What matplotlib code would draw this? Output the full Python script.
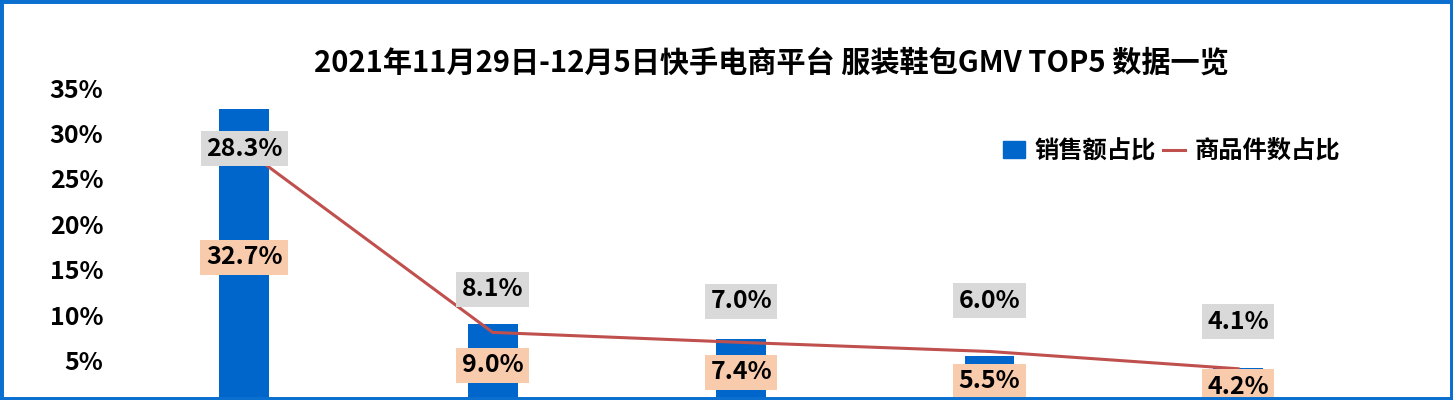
import numpy as np
import matplotlib
matplotlib.use("Agg")
import matplotlib.pyplot as plt
from matplotlib.patches import Rectangle, Patch
from matplotlib.lines import Line2D

plt.rcParams['font.family'] = ['Noto Sans CJK SC', 'DejaVu Sans']
plt.rcParams['font.weight'] = 'bold'

title = "2021年11月29日-12月5日快手电商平台 服装鞋包GMV TOP5 数据一览"
categories = ["第1名", "第2名", "第3名", "第4名", "第5名"]
sales_share = [32.7, 9.0, 7.4, 5.5, 4.2]      # 销售额占比 (%)
item_share = [28.3, 8.1, 7.0, 6.0, 4.1]       # 商品件数占比 (%)
yticks = [0, 5, 10, 15, 20, 25, 30, 35]

bar_color = "#0066cc"
line_color = "#c0504d"

fig = plt.figure(figsize=(14.53, 4.0), dpi=100)
ax = fig.add_axes([0.0826, -0.015, 0.855, 0.795])

x = np.arange(len(categories))
ax.bar(x, sales_share, width=0.2, color=bar_color, zorder=2)
ax.plot(x, item_share, color=line_color, lw=2.2, zorder=3)

ax.set_xlim(-0.5, len(categories) - 0.5)
ax.set_ylim(0, 35)
ax.set_yticks(yticks)
ax.set_yticklabels(["%d%%" % t for t in yticks], fontsize=18, fontweight='heavy')
ax.tick_params(axis='y', length=0, pad=12)
ax.set_xticks([])
for s in ax.spines.values():
    s.set_visible(False)

# bar labels in the middle of each bar
for xi, v in zip(x, sales_share):
    ax.text(xi, v / 2, "%.1f%%" % v, ha='center', va='center', fontsize=18,
            fontweight='heavy', zorder=5,
            bbox=dict(boxstyle='square,pad=0.22', fc='#f8cbad', ec='none'))

# line labels, first one sits on the point, others above it
offsets = [0, 31, 29.5, 36.5, 34]
for xi, v, off in zip(x, item_share, offsets):
    ax.annotate("%.1f%%" % v, (xi, v), xytext=(0, off), textcoords='offset points',
                ha='center', va='center', fontsize=18, fontweight='heavy', zorder=5,
                bbox=dict(boxstyle='square,pad=0.22', fc='#d9d9d9', ec='none'))

fig.text(0.531, 0.843, title, ha='center', va='center', fontsize=21, fontweight='heavy')

handles = [Patch(color=bar_color), Line2D([], [], color=line_color, lw=2.2)]
leg = fig.legend(handles, ["销售额占比", "商品件数占比"], loc='center left',
                 bbox_to_anchor=(0.675, 0.622), ncol=2, frameon=False,
                 prop=dict(size=17.5, weight='heavy'), handlelength=0.9,
                 handletextpad=0.4, columnspacing=0.3)

# blue frame around the picture
fig.patches.append(Rectangle((0, 0), 1, 1, transform=fig.transFigure, fill=False,
                             ec='#0a6fcf', lw=5, zorder=10))

fig.savefig("out.png", dpi=100)
